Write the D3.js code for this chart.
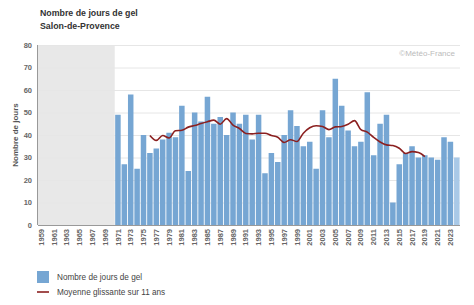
<!DOCTYPE html>
<html>
<head>
<meta charset="utf-8">
<script src="https://cdn.jsdelivr.net/npm/d3@7"></script>
<style>
  body { margin: 0; background: #fff; }
  svg { font-family: "Liberation Sans", Arial, sans-serif; }
</style>
</head>
<body>
<svg id="chart" width="474" height="305"></svg>
<script>
// years shown on the axis (no data before 1971)
const years = d3.range(1959, 2025);
const dataYears = d3.range(1971, 2025);
const frostDays = [49, 27, 58, 25, 40, 32, 34, 38, 41, 39, 53, 24, 50, 46, 57, 45, 48, 40, 50, 45,
  49, 38, 49, 23, 32, 28, 40, 51, 44, 35, 37, 25, 51, 39, 65, 53, 42, 35, 37, 59,
  31, 45, 49, 10, 27, 32, 35, 30, 31, 30, 29, 39, 37, 30];
const avgYears = d3.range(1976, 2020);
const movingAvg = [39.8, 37.6, 39.8, 38.7, 41.9, 42.1, 43.5, 44.2, 45.1, 45.9, 46.6, 44.8, 47.3, 44.4,
  42.9, 40.7, 40.5, 40.8, 40.8, 39.8, 39.0, 36.7, 37.9, 37.1, 40.8, 43.2, 44.1, 43.8, 42.4, 43.6,
  43.8, 44.8, 46.4, 42.4, 41.3, 38.9, 36.9, 35.6, 35.3, 34.1, 31.8, 32.6, 32.2, 30.4];
const yTicks = [0, 10, 20, 30, 40, 50, 60, 70, 80];

const margin = { top: 45, right: 14, bottom: 80, left: 38 };
const width = 474 - margin.left - margin.right;
const height = 305 - margin.top - margin.bottom;

const svg = d3.select('#chart');
const g = svg.append('g').attr('transform', `translate(${margin.left},${margin.top})`);

const x = d3.scaleBand().domain(years).range([0, width]).paddingInner(0.14).paddingOuter(0.07);
const y = d3.scaleLinear().domain([0, 80]).range([height, 0]);
const step = x.step();

// grey band for years without data
g.append('rect')
  .attr('x', 0)
  .attr('y', 0)
  .attr('width', x(1971) - step * 0.07)
  .attr('height', height)
  .attr('fill', '#e8e8e8');

// grid
g.selectAll('.grid')
  .data(yTicks.slice(1))
  .enter()
  .append('line')
  .attr('x1', 0)
  .attr('x2', width)
  .attr('y1', d => y(d) + 0.5)
  .attr('y2', d => y(d) + 0.5)
  .attr('stroke', '#e6e6e6');

// bars
g.selectAll('.bar')
  .data(dataYears.map((yr, i) => ({ yr, v: frostDays[i] })))
  .enter()
  .append('rect')
  .attr('x', d => x(d.yr))
  .attr('y', d => y(d.v))
  .attr('width', x.bandwidth())
  .attr('height', d => height - y(d.v))
  .attr('fill', d => (d.yr === 2024 ? '#a9c9e7' : '#76a6d3'));

// moving average
const line = d3.line()
  .x((d, i) => x(avgYears[i]) + x.bandwidth() / 2)
  .y(d => y(d))
  .curve(d3.curveMonotoneX);
g.append('path')
  .datum(movingAvg)
  .attr('d', line)
  .attr('fill', 'none')
  .attr('stroke', '#8b2020')
  .attr('stroke-width', 1.6);

// axes
g.append('line')
  .attr('x1', -0.5).attr('x2', -0.5)
  .attr('y1', 0).attr('y2', height)
  .attr('stroke', '#999');
g.append('line')
  .attr('x1', 0).attr('x2', width)
  .attr('y1', height + 0.5).attr('y2', height + 0.5)
  .attr('stroke', '#999');

g.selectAll('.ytick')
  .data(yTicks)
  .enter()
  .append('text')
  .attr('x', -6)
  .attr('y', d => y(d))
  .attr('dy', '0.35em')
  .attr('text-anchor', 'end')
  .attr('font-size', 7.5)
  .attr('font-weight', 'bold')
  .attr('fill', '#666')
  .text(d => d);

g.selectAll('.xtick')
  .data(years.filter(yr => yr % 2 === 1))
  .enter()
  .append('text')
  .attr('transform', d => `translate(${x(d) + x.bandwidth() / 2 + 2.6},${height + 4}) rotate(-90)`)
  .attr('text-anchor', 'end')
  .attr('font-size', 7.5)
  .attr('font-weight', 'bold')
  .attr('fill', '#666')
  .text(d => d);

svg.append('text')
  .attr('transform', `translate(18,${margin.top + height / 2}) rotate(-90)`)
  .attr('text-anchor', 'middle')
  .attr('font-size', 8)
  .attr('font-weight', 'bold')
  .attr('fill', '#555')
  .text('Nombre de jours');

// titles
svg.append('text')
  .attr('x', 40).attr('y', 16)
  .attr('font-size', 8.8)
  .attr('font-weight', 'bold')
  .attr('fill', '#333')
  .text('Nombre de jours de gel');
svg.append('text')
  .attr('x', 40).attr('y', 29)
  .attr('font-size', 8.8)
  .attr('font-weight', 'bold')
  .attr('fill', '#333')
  .text('Salon-de-Provence');

svg.append('text')
  .attr('x', 455).attr('y', 56)
  .attr('text-anchor', 'end')
  .attr('font-size', 8)
  .attr('fill', '#bbb')
  .text('©Météo-France');

// legend
const legend = svg.append('g').attr('font-size', 8.2).attr('fill', '#444');
legend.append('rect')
  .attr('x', 37).attr('y', 271)
  .attr('width', 12).attr('height', 12)
  .attr('fill', '#76a6d3');
legend.append('text').attr('x', 57).attr('y', 280).text('Nombre de jours de gel');
legend.append('line')
  .attr('x1', 37).attr('x2', 49)
  .attr('y1', 292).attr('y2', 292)
  .attr('stroke', '#8b2020')
  .attr('stroke-width', 1.6);
legend.append('text').attr('x', 57).attr('y', 295).text('Moyenne glissante sur 11 ans');
</script>
</body>
</html>
